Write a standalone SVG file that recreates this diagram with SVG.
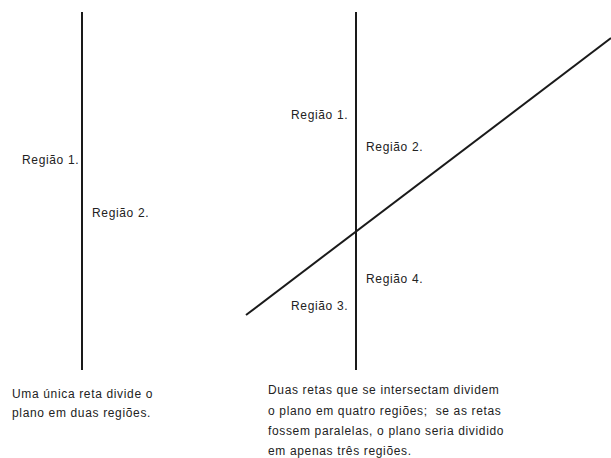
<svg xmlns="http://www.w3.org/2000/svg" width="611" height="458" viewBox="0 0 611 458">
<style>
.ln{stroke:#1a1a1a;stroke-width:2;fill:none}
.c{font-family:"Liberation Sans",Arial,sans-serif;font-size:12px;letter-spacing:0.65px;fill:#222;white-space:pre}
</style>
<rect width="611" height="458" fill="#fff"/>
<g id="connectors">
<line class="ln" x1="82" y1="12" x2="82" y2="370"/>
<line class="ln" x1="356" y1="12" x2="356" y2="370"/>
<line class="ln" x1="246" y1="315" x2="611" y2="38"/>
</g>
<g id="left-labels">
<text class="c" x="22" y="164">Região 1.</text>
<text class="c" x="92" y="217">Região 2.</text>
</g>
<g id="right-labels">
<text class="c" x="291" y="119">Região 1.</text>
<text class="c" x="366" y="151">Região 2.</text>
<text class="c" x="366" y="283">Região 4.</text>
<text class="c" x="291" y="310">Região 3.</text>
</g>
<g id="left-caption">
<text class="c" x="12" y="398">Uma única reta divide o</text>
<text class="c" x="12" y="417">plano em duas regiões.</text>
</g>
<g id="right-caption">
<text class="c" x="268" y="394">Duas retas que se intersectam dividem</text>
<text class="c" x="268" y="415" xml:space="preserve">o plano em quatro regiões;  se as retas</text>
<text class="c" x="268" y="435">fossem paralelas, o plano seria dividido</text>
<text class="c" x="268" y="455">em apenas três regiões.</text>
</g>
</svg>
